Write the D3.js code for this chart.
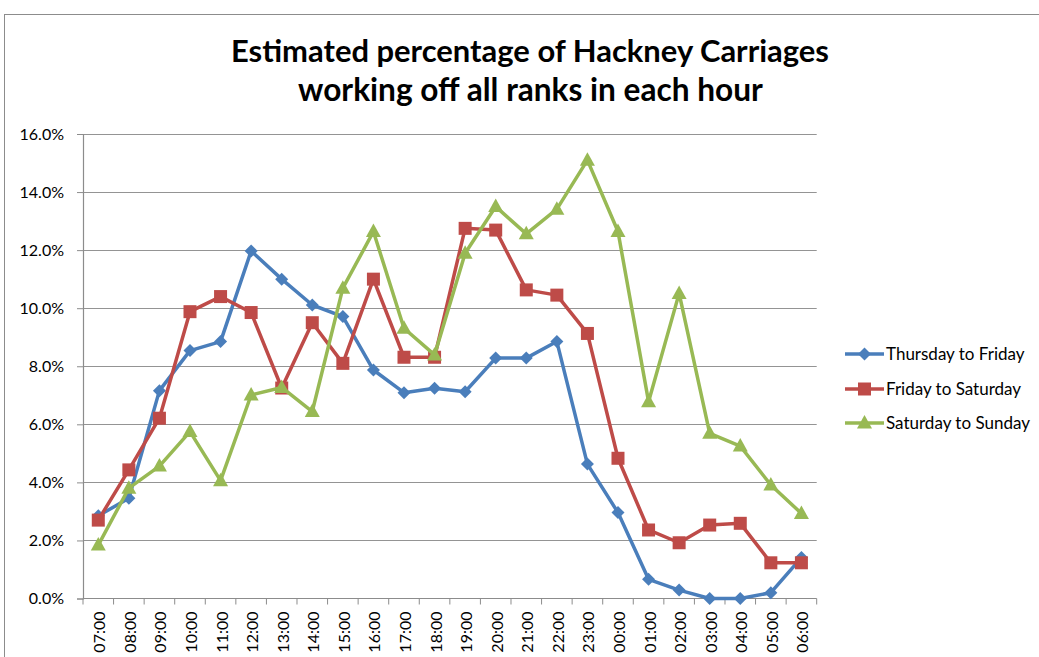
<!DOCTYPE html>
<html><head><meta charset="utf-8">
<script src="https://cdn.jsdelivr.net/npm/d3@7"></script>
<style>body{margin:0;background:#fff}svg{display:block}</style>
</head><body><svg id="c" width="1039" height="657"></svg>
<script>
const categories = ["07:00","08:00","09:00","10:00","11:00","12:00","13:00","14:00","15:00","16:00","17:00","18:00","19:00","20:00","21:00","22:00","23:00","00:00","01:00","02:00","03:00","04:00","05:00","06:00"];
const thuFri = [2.85,3.45,7.16,8.54,8.85,11.97,11.0,10.11,9.71,7.87,7.09,7.24,7.12,8.28,8.28,8.85,4.63,2.96,0.66,0.29,0.0,0.0,0.2,1.41];
const friSat = [2.70,4.43,6.21,9.88,10.4,9.85,7.25,9.5,8.1,11.0,8.31,8.31,12.75,12.69,10.63,10.45,9.13,4.83,2.36,1.92,2.53,2.59,1.23,1.23];
const satSun = [1.84,3.8,4.56,5.75,4.06,7.01,7.27,6.44,10.69,12.64,9.31,8.39,11.89,13.5,12.56,13.41,15.1,12.64,6.78,10.51,5.69,5.25,3.91,2.93];
const yTicks = [0,2,4,6,8,10,12,14,16];
const seriesNames = ["Thursday to Friday","Friday to Saturday","Saturday to Sunday"];
const titleLines = ["Estimated percentage of Hackney Carriages","working off all ranks in each hour"];

const series = [
  {name: seriesNames[0], values: thuFri, color: "#4A7EBB", marker: "diamond"},
  {name: seriesNames[1], values: friSat, color: "#BE4B48", marker: "square"},
  {name: seriesNames[2], values: satSun, color: "#98B954", marker: "triangle"}
];

const svg = d3.select("#c");
const font = "Lato, 'Open Sans', sans-serif";
const L = 83, R = 816.7, T = 134, B = 598.5;

svg.append("rect").attr("x",4.5).attr("y",14.5).attr("width",1100).attr("height",800)
  .attr("fill","#fff").attr("stroke","#8c8c8c").attr("stroke-width",1);

const x = d3.scaleBand().domain(categories).range([L,R]);
const y = d3.scaleLinear().domain([0,16]).range([B,T]);

// gridlines
svg.append("g").selectAll("line").data(yTicks.slice(1)).join("line")
  .attr("x1",L).attr("x2",R).attr("y1",d=>Math.round(y(d))+0.5).attr("y2",d=>Math.round(y(d))+0.5)
  .attr("stroke","#949494").attr("stroke-width",1.2);

// y axis
const yAxis = d3.axisLeft(y).tickValues(yTicks).tickFormat(d=>d.toFixed(1)+"%").tickSize(6).tickPadding(13);
const gy = svg.append("g").attr("transform",`translate(${L},0)`).call(yAxis);
gy.select(".domain").attr("stroke","#8c8c8c").attr("stroke-width",1.2);
gy.selectAll(".tick line").attr("stroke","#8c8c8c");
gy.selectAll("text").attr("font-family",font).attr("font-size",16).attr("fill","#000");

// x axis
const gx = svg.append("g").attr("transform",`translate(0,${B})`);
gx.append("line").attr("x1",L).attr("x2",R).attr("stroke","#8c8c8c").attr("stroke-width",1.2);
const edges = categories.map(c=>x(c)).concat([R]);
gx.selectAll("line.t").data(edges).join("line").attr("class","t")
  .attr("x1",d=>d).attr("x2",d=>d).attr("y1",0).attr("y2",6).attr("stroke","#8c8c8c");
gx.selectAll("text").data(categories).join("text")
  .attr("transform",d=>`translate(${x(d)+x.bandwidth()/2+7},13) rotate(-90)`)
  .attr("text-anchor","end").attr("font-family",font).attr("font-size",16).attr("fill","#000")
  .text(d=>d);

// lines
const line = d3.line().x((d,i)=>x(categories[i])+x.bandwidth()/2).y(d=>y(d));
function markerPath(type){
  if(type==="diamond") return "M0,-6.5L6.5,0L0,6.5L-6.5,0Z";
  if(type==="square") return "M-6.5,-6.5H6.5V6.5H-6.5Z";
  return "M0,-8L7.5,5.5H-7.5Z";
}
series.forEach(s=>{
  svg.append("path").datum(s.values).attr("d",line).attr("fill","none")
    .attr("stroke",s.color).attr("stroke-width",3.5).attr("stroke-linejoin","round");
  svg.append("g").selectAll("path").data(s.values).join("path")
    .attr("transform",(d,i)=>`translate(${x(categories[i])+x.bandwidth()/2},${y(d)})`)
    .attr("d",markerPath(s.marker)).attr("fill",s.color);
});

// legend
const legY = [354,389,423];
series.forEach((s,i)=>{
  const g = svg.append("g").attr("transform",`translate(845,${legY[i]})`);
  g.append("line").attr("x1",0).attr("x2",39).attr("stroke",s.color).attr("stroke-width",3.5);
  g.append("path").attr("transform","translate(19.5,0)").attr("d",markerPath(s.marker)).attr("fill",s.color);
  const t = g.append("text").attr("x",41).attr("y",6).attr("font-family",font).attr("font-size",17).attr("fill","#000").text(s.name);
});

// title
const tw = [598, 465], tx = [530, 530.5], ty = [62, 101];
titleLines.forEach((t,i)=>{
  const el = svg.append("text").attr("x",tx[i]).attr("y",ty[i]).attr("text-anchor","middle")
    .attr("font-family",font).attr("font-weight","bold").attr("font-size",28).attr("fill","#000").text(t);
  const w = el.node().getComputedTextLength();
  el.attr("font-size", 28*tw[i]/w);
});
</script></body></html>
